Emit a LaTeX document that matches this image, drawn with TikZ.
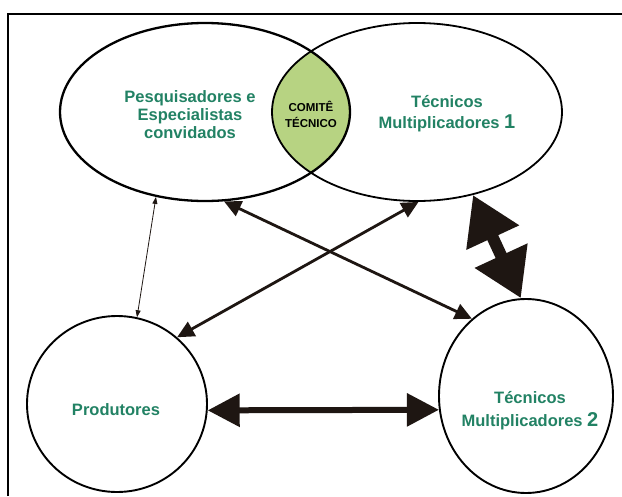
\documentclass[tikz,border=0pt]{standalone}
\usepackage{fontspec}
\setmainfont{Liberation Sans}
\usetikzlibrary{arrows.meta,shapes.geometric}
\definecolor{labelgreen}{RGB}{34,130,100}
\definecolor{lensgreen}{RGB}{183,211,130}
\definecolor{arrowcol}{RGB}{30,22,18}
\tikzset{
  blob/.style={ellipse, draw=black, line width=1.9pt, inner sep=0pt},
  lbl/.style={text=labelgreen, font=\bfseries\fontsize{16.5}{18}\selectfont, align=center, inner sep=0pt},
  clbl/.style={text=black, font=\bfseries\fontsize{11.5}{16}\selectfont, align=center, inner sep=0pt},
  thinarr/.style={draw=arrowcol, line width=0.8pt, {Triangle[length=7pt,width=5pt]}-{Triangle[length=7pt,width=5pt]}},
  medarr/.style={draw=arrowcol, line width=2.8pt, {Triangle[length=17pt,width=16pt]}-{Triangle[length=17pt,width=16pt]}},
  horarr/.style={draw=arrowcol, line width=6pt, {Triangle[length=32pt,width=32pt]}-{Triangle[length=32pt,width=32pt]}},
  bigarr/.style={draw=arrowcol, line width=12pt, {Triangle[length=47pt,width=55pt]}-{Triangle[length=47pt,width=55pt]}}
}
\begin{document}
\begin{tikzpicture}[x=1pt,y=-1pt]
\useasboundingbox (0,0) rectangle (622,496);
\fill[white] (0,0) rectangle (622,496);
% frame
\draw[line width=2pt] (8,496) -- (8,14) -- (622,14);
% lens
\begin{scope}
  \clip (205,112) ellipse [x radius=145pt, y radius=89pt];
  \fill[lensgreen] (417,112) ellipse [x radius=145pt, y radius=89pt];
\end{scope}
% shapes
\node[blob, line width=2.3pt, minimum width=290pt, minimum height=178pt] (L) at (205,112) {};
\node[blob, line width=1.8pt, minimum width=290pt, minimum height=178pt] (R) at (417,112) {};
\node[blob, minimum width=180pt, minimum height=176pt] (P) at (117,404) {};
\node[blob, minimum width=174pt, minimum height=194pt] (T) at (526,396) {};
% labels
\node[lbl] (lL) at (190,115) {Pesquisadores e\\Especialistas\\convidados};
\node[clbl] (lC) at (311,114) {COMITÊ\\TÉCNICO};
\node[lbl] (lR) at (447,114) {Técnicos\\[3pt]Multiplicadores {\fontsize{20}{18}\selectfont 1}};
\node[lbl] (lP) at (116,410) {Produtores};
\node[lbl] (lT) at (530,411) {Técnicos\\[5pt]Multiplicadores {\fontsize{20}{18}\selectfont 2}};
% connectors
\draw[thinarr] (L.240) -- (P.77);
\draw[medarr] (L.282) -- (T.125);
\draw[medarr] (R.271) -- (P.48);
\draw[bigarr] (R.304) -- (T.93);
\draw[horarr] (P.-4) -- (T.189);
\end{tikzpicture}
\end{document}
